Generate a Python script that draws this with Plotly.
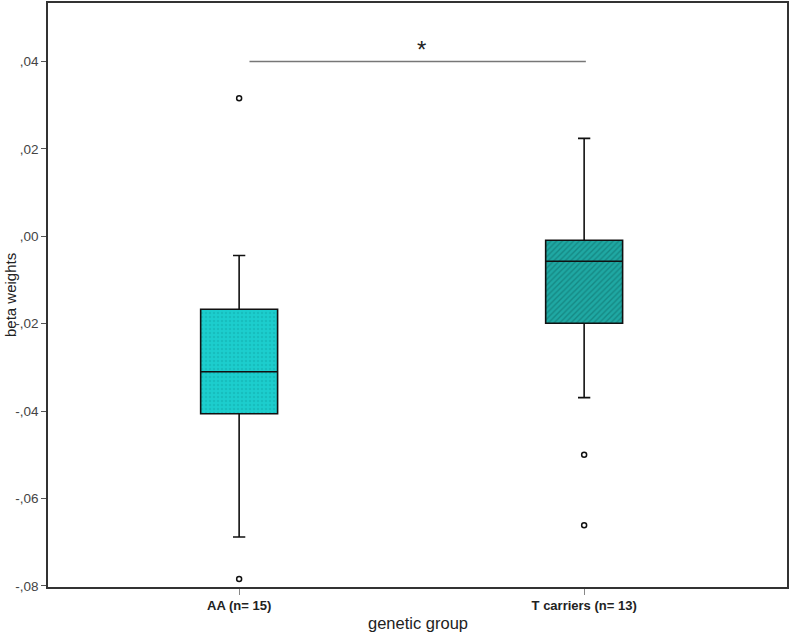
import plotly.graph_objects as go

# ---- data ----
groups = ["AA (n= 15)", "T carriers (n= 13)"]
q1 = [-0.0406, -0.0199]
median = [-0.0310, -0.0057]
q3 = [-0.0167, -0.0009]
lower_whisker = [-0.0688, -0.0369]
upper_whisker = [-0.0044, 0.0224]
outliers = [[0.0316, -0.0784], [-0.0500, -0.0661]]
sig_y = 0.04
sig_label = "*"
y_ticks = [0.04, 0.02, 0.00, -0.02, -0.04, -0.06, -0.08]
y_tick_labels = [",04", ",02", ",00", "-,02", "-,04", "-,06", "-,08"]

fill_bg = ["#1CCECE", "#1FA8A3"]
fill_fg = ["#12ADAD", "#0C6A66"]
patterns = [".", "/"]

xs = list(range(len(groups)))
bw = 0.223

fig = go.Figure()

for i in xs:
    fig.add_trace(go.Bar(
        x=[i], y=[q3[i] - q1[i]], base=[q1[i]], width=bw,
        marker=dict(color=fill_bg[i], line=dict(width=0),
                    pattern=dict(shape=patterns[i], fgcolor=fill_fg[i],
                                 size=4, solidity=0.35)),
        showlegend=False, hoverinfo="skip"))

for i in xs:
    fig.add_trace(go.Box(
        x=[i], q1=[q1[i]], median=[median[i]], q3=[q3[i]],
        lowerfence=[lower_whisker[i]], upperfence=[upper_whisker[i]],
        width=bw, whiskerwidth=0.16,
        fillcolor="rgba(0,0,0,0)",
        line=dict(color="#111111", width=1.6),
        boxpoints=False, showlegend=False))

for i in xs:
    fig.add_trace(go.Scatter(
        x=[i] * len(outliers[i]), y=outliers[i], mode="markers",
        marker=dict(symbol="circle-open", size=5, color="#111111",
                    line=dict(width=1.5, color="#111111")),
        showlegend=False))

# significance bracket
fig.add_trace(go.Scatter(
    x=[xs[0] + 0.03, xs[1] + 0.005], y=[sig_y, sig_y], mode="lines",
    line=dict(color="#777777", width=1.5), showlegend=False, hoverinfo="skip"))
fig.add_annotation(x=(xs[0] + xs[1]) / 2 + 0.03, y=sig_y, yshift=12, text=sig_label,
                   showarrow=False, font=dict(size=24, color="#222222"))

fig.update_layout(
    width=790, height=634,
    margin=dict(l=48, r=3, t=2.5, b=47),
    plot_bgcolor="white", paper_bgcolor="white",
    barmode="overlay", boxmode="overlay",
    font=dict(family="Liberation Sans, Arial, sans-serif", color="#333333"),
    xaxis=dict(range=[-0.554, 1.588], tickvals=xs, ticktext=["<b>%s</b>" % g for g in groups],
               ticks="outside", ticklen=6, tickcolor="#888888",
               tickfont=dict(size=13, color="#222222"),
               showline=True, linecolor="#333333", linewidth=1.5, mirror=True,
               showgrid=False, zeroline=False, fixedrange=True),
    yaxis=dict(range=[-0.08023, 0.05337], tickvals=y_ticks, ticktext=y_tick_labels,
               ticks="outside", ticklen=5, tickcolor="#555555",
               tickfont=dict(size=13.5, color="#444444"),
               showline=True, linecolor="#333333", linewidth=1.5, mirror=True,
               showgrid=False, zeroline=False, automargin=False),
)

fig.add_annotation(xref="paper", yref="paper", x=0.5, y=0, yshift=-36, text="genetic group",
                   showarrow=False, font=dict(size=16.5, color="#222222"), yanchor="middle")
fig.add_annotation(xref="paper", yref="paper", x=0, xshift=-38, y=0.5, text="beta weights",
                   showarrow=False, textangle=-90, font=dict(size=15, color="#222222"),
                   xanchor="center")

fig.write_html("out.html", config={"displayModeBar": False},
               post_script="document.body.style.margin='0';")
